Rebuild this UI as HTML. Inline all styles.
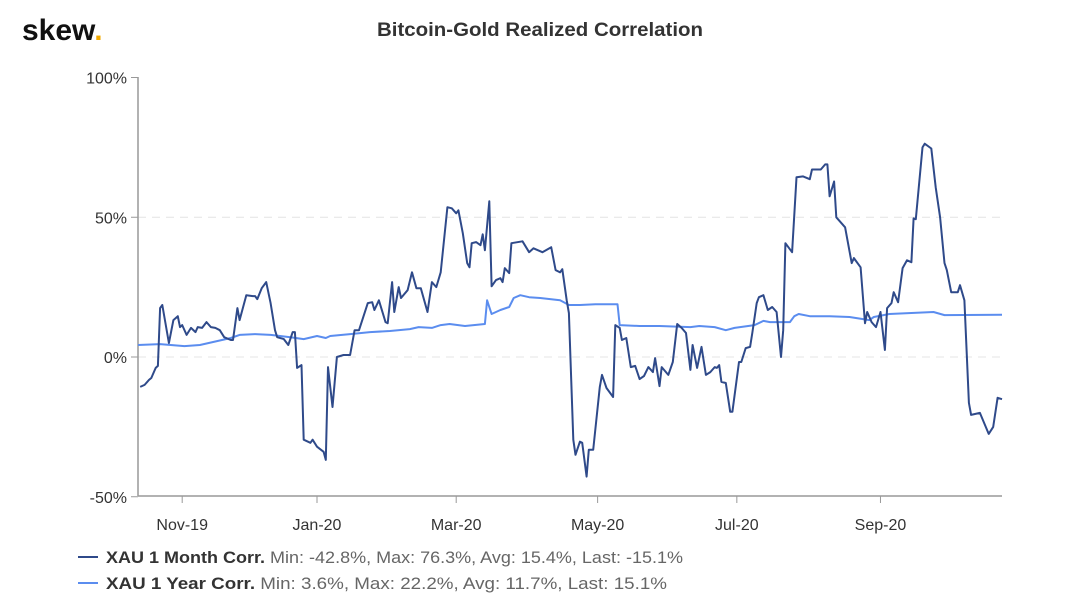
<!DOCTYPE html>
<html><head><meta charset="utf-8"><style>
body{margin:0;background:#fff;width:1080px;height:606px;overflow:hidden;font-family:"Liberation Sans",sans-serif}
</style></head><body>
<svg width="1080" height="606">
<text x="22" y="40" font-size="30" font-weight="bold" fill="#111">skew<tspan fill="#f2a900">.</tspan></text>
<text x="377" y="36" font-size="19" font-weight="bold" fill="#333" textLength="326" lengthAdjust="spacingAndGlyphs">Bitcoin-Gold Realized Correlation</text>
<g id="grid"></g>
<line x1="138" y1="77" x2="138" y2="496" stroke="#999" stroke-width="1.5"/>
<line x1="138" y1="496" x2="1002" y2="496" stroke="#999" stroke-width="1.5"/>
<g id="yt"></g><g id="xt"></g><g id="series"></g>
<g>
<line x1="78" y1="557" x2="98" y2="557" stroke="#2f4a8a" stroke-width="2"/>
<text x="106" y="563" font-size="17" fill="#666" textLength="577" lengthAdjust="spacingAndGlyphs"><tspan fill="#333" font-weight="bold">XAU 1 Month Corr.</tspan> Min: -42.8%, Max: 76.3%, Avg: 15.4%, Last: -15.1%</text></g>
<g>
<line x1="78" y1="583" x2="98" y2="583" stroke="#5b8def" stroke-width="2"/>
<text x="106" y="589" font-size="17" fill="#666" textLength="561" lengthAdjust="spacingAndGlyphs"><tspan fill="#333" font-weight="bold">XAU 1 Year Corr.</tspan> Min: 3.6%, Max: 22.2%, Avg: 11.7%, Last: 15.1%</text></g>
</svg>
<script>
const yTicks=[100,50,0,-50];
const xTickLabels=["Nov-19","Jan-20","Mar-20","May-20","Jul-20","Sep-20"];
const xTickDays=[20,81,144,208,271,336];
const monthDays=[1,3,5,6,8,9,10,11,14,16,18,19,20,22,24,26,27,29,31,33,35,37,39,42,43,45,46,49,52,53,54,56,58,60,62,63,66,68,70,71,72,74,75,78,79,81,84,85,86,88,90,93,96,98,100,104,106,107,109,112,113,115,116,118,119,122,124,126,128,131,133,135,137,140,142,144,145,147,149,150,151,153,155,156,157,159,160,162,164,165,166,168,169,174,177,179,183,187,189,191,192,194,195,197,198,200,201,203,204,206,209,210,212,215,216,218,219,221,223,225,227,229,231,233,234,236,237,240,242,244,246,248,250,251,253,255,257,259,261,262,263,264,266,268,269,272,273,275,277,278,280,281,283,285,287,289,291,292,293,296,298,301,304,305,309,311,312,313,315,316,320,323,324,327,329,330,332,334,336,338,339,341,342,344,346,348,350,351,352,355,356,359,361,363,365,366,368,371,372,374,376,377,381,385,387,389,391];
const monthVals=[-10.7,-10,-8.2,-7.5,-3.9,-3.2,17.5,18.6,5,13.2,14.6,10.7,11.4,7.9,10.4,8.9,10.7,10.4,12.5,10.7,10.4,9.6,7.1,6.1,6.1,17.5,13.2,22.1,21.8,21.8,20.7,24.6,26.8,19.3,9.6,7.1,6.4,4.3,8.9,8.9,-3.9,-2.9,-29.6,-30.7,-29.6,-32.1,-33.9,-36.8,-3.6,-17.9,0,0.7,0.7,9.6,9.6,19.3,19.6,16.8,20.3,12.5,12.1,26.8,16.1,25,21.1,23.9,30.3,24.6,24.6,16.1,26.8,25,30.3,53.6,53.2,51.4,52.5,44.3,33.6,32.1,40.7,41.1,40,43.9,38.2,55.7,25.3,27.5,28.2,26.8,31.8,30,40.7,41.4,37.5,38.9,37.5,39.3,31.1,30.3,31.4,20.3,15.7,-29.6,-35,-30.3,-30.7,-42.8,-33.2,-33.2,-10.7,-6.4,-11.1,-14.3,11.4,10.4,6.1,6.8,-3.6,-3.2,-7.9,-6.8,-3.6,-5.4,-0.4,-10.4,-3.6,-6.4,-1.8,11.8,10.4,8.6,-4.6,4.3,-3.9,3.6,-6.4,-5.4,-3.6,-3.9,-2.9,-8.9,-9.3,-19.6,-19.6,-1.8,-1.8,3.2,3.6,8.6,19.3,21.4,22.1,16.8,17.9,16.1,0,9.6,40.7,37.5,64.3,64.6,63.6,67.1,67.1,68.9,68.9,57.5,62.8,50,46.4,33.6,35.4,32.1,12.1,16.1,12.5,10.7,16.1,2.5,17.5,19.3,23.2,19.6,31.8,34.6,33.9,49.6,49.3,75,76.3,74.6,60.7,50,33.6,31.1,23.2,23.2,25.7,20.3,-16.4,-20.7,-20,-27.5,-25,-14.6,-15.1];
const yearDays=[0,10,21,28,42,46,53,60,69,75,81,85,87,96,105,114,123,127,133,137,141,148,157,158,160,164,168,170,173,177,182,191,195,200,207,217,218,227,236,250,254,261,266,270,279,283,286,295,297,299,304,313,322,331,333,340,360,365,391];
const yearVals=[4.3,4.6,3.9,4.3,6.8,7.9,8.2,7.9,7.1,6.4,7.5,6.8,7.5,8.2,8.9,9.3,10,10.7,10.4,11.4,11.8,11.1,11.8,20.3,15.4,16.8,17.9,21.1,22.1,21.4,21.1,20.3,18.6,18.6,18.9,18.9,11.4,11.1,11.1,10.7,11.1,10.7,9.6,10.4,11.4,12.9,12.5,12.5,14.6,15.4,14.6,14.6,14.3,13.2,14.3,15.4,16.1,15,15.1];
const NS="http://www.w3.org/2000/svg";
const X=d=>138+d*(1002-138)/391;
const Y=v=>357-v*2.795;
const grid=document.getElementById('grid'),yt=document.getElementById('yt'),xt=document.getElementById('xt'),ser=document.getElementById('series');
yTicks.forEach(v=>{
  if(v!==100&&v!==-50){const l=document.createElementNS(NS,'line');
  
  
  l.setAttribute('x1',138);l.setAttribute('x2',1002);l.setAttribute('y1',Y(v));l.setAttribute('y2',Y(v));
  l.setAttribute('stroke','#e4e4e4');l.setAttribute('stroke-dasharray','8,6');grid.appendChild(l);}
  const t=document.createElementNS(NS,'text');
  
  
  t.setAttribute('x',127);t.setAttribute('y',Y(v)+6);t.setAttribute('text-anchor','end');t.setAttribute('font-size','16');t.setAttribute('fill','#333');
  t.textContent=v+'%';yt.appendChild(t);
  const tk=document.createElementNS(NS,'line');tk.setAttribute('x1',131);tk.setAttribute('x2',138);tk.setAttribute('y1',Y(v));tk.setAttribute('y2',Y(v));tk.setAttribute('stroke','#999');yt.appendChild(tk);
});
xTickLabels.forEach((s,i)=>{
  const t=document.createElementNS(NS,'text');
  
  
  t.setAttribute('x',X(xTickDays[i]));t.setAttribute('y',530);t.setAttribute('text-anchor','middle');t.setAttribute('font-size','16');t.setAttribute('fill','#333');
  t.textContent=s;xt.appendChild(t);
  const tk=document.createElementNS(NS,'line');tk.setAttribute('x1',X(xTickDays[i]));tk.setAttribute('x2',X(xTickDays[i]));tk.setAttribute('y1',496);tk.setAttribute('y2',503);tk.setAttribute('stroke','#999');xt.appendChild(tk);
});
function line(days,vals,col,name){
  const p=document.createElementNS(NS,'polyline');
  
  
  p.setAttribute('points',days.map((d,i)=>X(d).toFixed(1)+','+Y(vals[i]).toFixed(1)).join(' '));
  p.setAttribute('fill','none');p.setAttribute('stroke',col);p.setAttribute('stroke-width','2');p.setAttribute('stroke-linejoin','round');
  ser.appendChild(p);
}
line(yearDays,yearVals,'#5b8def','xau-1-year-line');
line(monthDays,monthVals,'#2f4a8a','xau-1-month-line');
</script>
</body></html>
